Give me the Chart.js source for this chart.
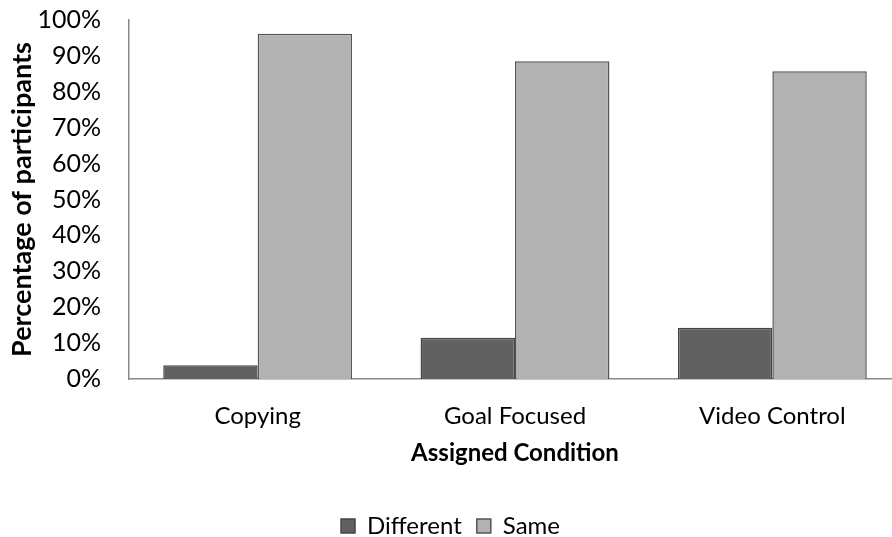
<!DOCTYPE html>
<html>
<head>
<meta charset="utf-8">
<script src="https://cdn.jsdelivr.net/npm/chart.js@4"></script>
<style>
  html, body { margin: 0; padding: 0; background: #fff; overflow: hidden; }
  #wrap { width: 892px; height: 537px; overflow: hidden; }
  canvas { display: block; }
</style>
</head>
<body>
<div id="wrap"><canvas id="c" width="902" height="548" style="width:902px;height:548px"></canvas></div>
<script>
// Share of participants per assigned condition
const conditions = ['Copying', 'Goal Focused', 'Video Control'];
const differentPct = [0.038, 0.115, 0.143];
const samePct = [0.962, 0.885, 0.857];
const yTickStep = 0.1;

const FONT = 'Lato, "Liberation Sans", sans-serif';
const TEXT = '#000';

new Chart(document.getElementById('c'), {
  type: 'bar',
  data: {
    labels: conditions,
    datasets: [
      {
        label: 'Different',
        data: differentPct,
        backgroundColor: '#616161',
        borderColor: '#454545',
        borderWidth: 1.5,
        borderSkipped: 'bottom'
      },
      {
        label: 'Same',
        data: samePct,
        backgroundColor: '#b2b2b2',
        borderColor: '#555555',
        borderWidth: 1.5,
        borderSkipped: 'bottom'
      }
    ]
  },
  options: {
    responsive: false,
    animation: false,
    layout: { padding: { top: 20, left: 0, right: 1, bottom: 0 } },
    datasets: {
      bar: { categoryPercentage: 0.734, barPercentage: 1.0 }
    },
    scales: {
      x: {
        grid: { display: false, drawTicks: false },
        border: { display: true, color: '#8a8a8a', width: 1.5 },
        ticks: { color: TEXT, font: { family: FONT, size: 24 }, padding: 23 },
        title: {
          display: true,
          text: 'Assigned Condition',
          color: TEXT,
          font: { family: FONT, size: 24, weight: 'bold' },
          padding: { top: 0, bottom: 31 }
        },
        afterFit: (s) => { s.height = 120; }
      },
      y: {
        min: 0,
        max: 1,
        grid: { display: false, drawTicks: false },
        border: { display: true, color: '#8a8a8a', width: 1.5 },
        ticks: {
          stepSize: yTickStep,
          color: TEXT,
          font: { family: FONT, size: 25 },
          padding: 28,
          callback: (v) => Math.round(v * 100) + '%'
        },
        title: {
          display: true,
          text: 'Percentage of participants',
          color: TEXT,
          font: { family: FONT, size: 27, weight: 'bold' },
          padding: { top: 6, bottom: 0 }
        },
        afterFit: (s) => { s.width = 129; s.paddingTop = 0; s.paddingBottom = 0; }
      }
    },
    plugins: {
      tooltip: { enabled: false },
      legend: {
        position: 'bottom',
        labels: {
          color: TEXT,
          font: { family: FONT, size: 24 },
          boxWidth: 14,
          boxHeight: 14,
          padding: 15
        }
      }
    }
  }
});
</script>
</body>
</html>
